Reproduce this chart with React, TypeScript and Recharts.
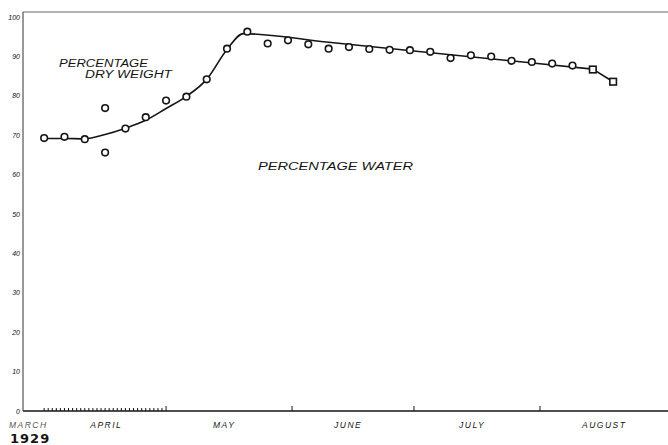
import { ComposedChart, Line, Scatter, XAxis, YAxis, ReferenceLine } from "recharts"

// days counted from April 1st, 1929
const sampleDays = [0, 5, 10, 15, 15, 20, 25, 30, 35, 40, 45, 50, 55, 60, 65, 70, 75, 80, 85, 90, 95, 100, 105, 110, 115, 120, 125, 130]
const samplePct = [69.3, 69.6, 69.0, 76.9, 65.6, 71.7, 74.6, 78.8, 79.8, 84.2, 92.0, 96.3, 93.3, 94.1, 93.1, 92.0, 92.4, 91.9, 91.7, 91.6, 91.2, 89.6, 90.3, 90.0, 88.9, 88.6, 88.2, 87.7]

const squareDays = [135, 140]
const squarePct = [86.7, 83.6]

// hand drawn curve through the samples
const curveDays = [0, 5, 10, 15, 20, 25, 30, 35, 40, 45, 49, 70, 100, 135]
const curvePct = [69.2, 69.2, 69.1, 70.2, 71.8, 73.8, 76.8, 79.9, 84.2, 91.8, 95.8, 93.6, 90.46, 86.8]

const tailDays = [135, 140]
const tailPct = [86.8, 83.6]

const monthNames = ["MARCH", "APRIL", "MAY", "JUNE", "JULY", "AUGUST"]
const monthLabelDays = [-3.9, 15.3, 44.3, 74.8, 105.3, 137.8]
const monthStarts = [30, 61, 91, 122]
const aprilDays = Array.from({ length: 31 }, (_, i) => i)

const pctTicks = [0, 10, 20, 30, 40, 50, 60, 70, 80, 90, 100]

const toRows = (xs: number[], ys: number[]) => xs.map((d, i) => ({ day: d, pct: ys[i] }))

const samples = toRows(sampleDays, samplePct)
const squares = toRows(squareDays, squarePct)
const curve = toRows(curveDays, curvePct)
const tail = toRows(tailDays, tailPct)

const xTicks = Array.from(new Set([...monthLabelDays, ...aprilDays, ...monthStarts])).sort((a, b) => a - b)

const INK = "#151515"
const hand = "'Liberation Sans', Arial, sans-serif"

function DayTick(props: any) {
  const { x, y, payload } = props
  const v = payload.value
  const li = monthLabelDays.indexOf(v)
  if (li >= 0) {
    return (
      <text
        x={x}
        y={y + 17}
        textAnchor="middle"
        fontFamily={hand}
        fontStyle="italic"
        fontSize={8.5}
        letterSpacing={1.5}
        fill={li === 0 ? "#555" : INK}
      >
        {monthNames[li]}
      </text>
    )
  }
  const major = monthStarts.includes(v)
  return <line x1={x} x2={x} y1={y} y2={y - (major ? 5 : 3)} stroke={INK} strokeWidth={1} />
}

function PctTick(props: any) {
  const { x, y, payload } = props
  return (
    <text x={x} y={y + 2.5} textAnchor="end" fontFamily={hand} fontStyle="italic" fontSize={7} fill={INK}>
      {payload.value}
    </text>
  )
}

const Ring = (p: any) => (
  <circle cx={p.cx} cy={p.cy} r={3.3} fill="#fff" stroke={INK} strokeWidth={1.6} />
)

const Box = (p: any) => (
  <rect x={p.cx - 3.3} y={p.cy - 3.3} width={6.6} height={6.6} fill="#fff" stroke={INK} strokeWidth={1.6} />
)

export default function App() {
  return (
    <div style={{ position: "absolute", left: 0, top: 0, width: 668, height: 445, background: "#fff" }}>
      <ComposedChart width={668} height={445} margin={{ top: 12, right: 0, left: 0, bottom: 0 }}>
        <XAxis
          type="number"
          dataKey="day"
          domain={[-5.2, 153.5]}
          allowDataOverflow
          ticks={xTicks}
          interval={0}
          tick={<DayTick />}
          tickLine={false}
          tickSize={0}
          tickMargin={0}
          height={34}
          axisLine={{ stroke: INK, strokeWidth: 1.5 }}
        />
        <YAxis
          type="number"
          dataKey="pct"
          domain={[0, 101.3]}
          allowDataOverflow
          ticks={pctTicks}
          interval={0}
          tick={<PctTick />}
          tickLine={false}
          tickSize={0}
          tickMargin={3}
          width={23}
          axisLine={{ stroke: "#333", strokeWidth: 1 }}
        />
        <ReferenceLine y={101.3} stroke="#666" strokeWidth={1} />
        <Line
          data={curve}
          dataKey="pct"
          type="monotone"
          stroke={INK}
          strokeWidth={1.6}
          dot={false}
          activeDot={false}
          isAnimationActive={false}
        />
        <Line
          data={tail}
          dataKey="pct"
          type="linear"
          stroke={INK}
          strokeWidth={1.6}
          dot={false}
          activeDot={false}
          isAnimationActive={false}
        />
        <Scatter data={samples} dataKey="pct" shape={Ring} isAnimationActive={false} />
        <Scatter data={squares} dataKey="pct" shape={Box} isAnimationActive={false} />
      </ComposedChart>
      <svg width={668} height={445} style={{ position: "absolute", left: 0, top: 0, pointerEvents: "none" }}>
        <g fontFamily={hand} fontStyle="italic" fontSize={10} fill={INK}>
          <text x={59} y={67} textLength={89} lengthAdjust="spacingAndGlyphs">PERCENTAGE</text>
          <text x={85} y={78} textLength={87} lengthAdjust="spacingAndGlyphs">DRY WEIGHT</text>
          <text x={258} y={170} textLength={155} lengthAdjust="spacingAndGlyphs">PERCENTAGE WATER</text>
        </g>
        <text x={10} y={443} fontFamily="'DejaVu Sans', sans-serif" fontWeight="bold" fontSize={13} letterSpacing={1} fill={INK}>
          1929
        </text>
      </svg>
    </div>
  )
}
